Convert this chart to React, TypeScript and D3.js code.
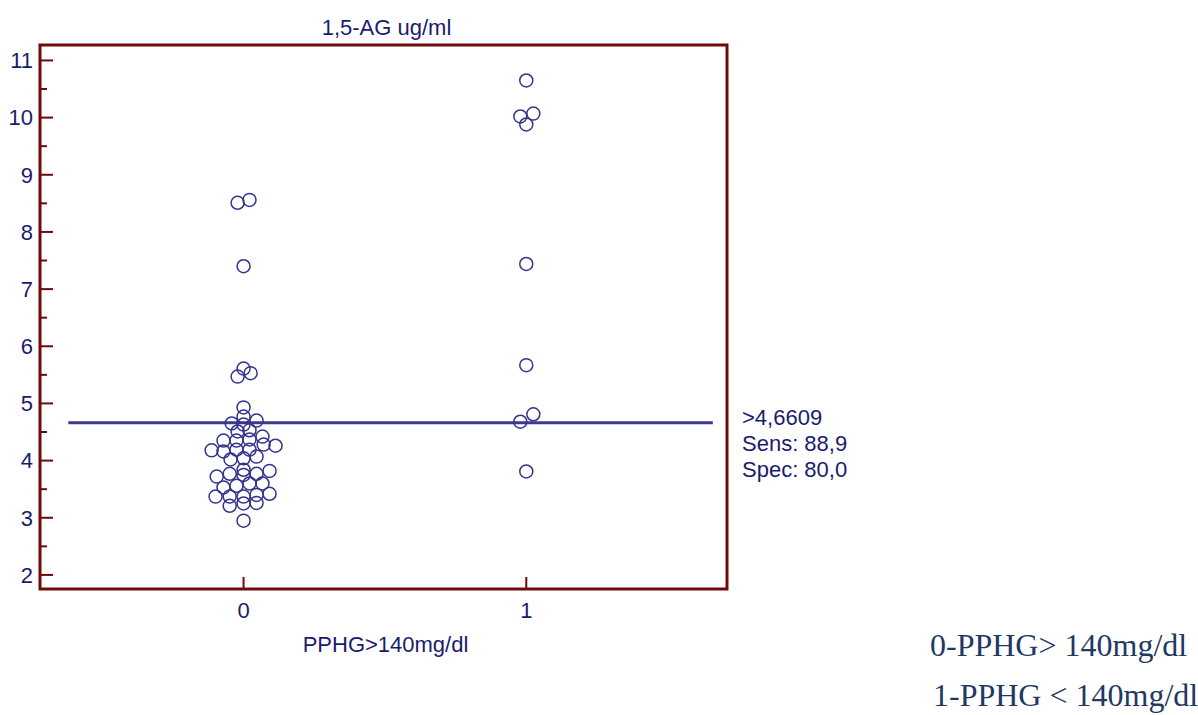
import React from "react";
import * as d3 from "d3";

// 1,5-AG (ug/ml) by PPHG group, with horizontal jitter in category units
const group0Values = [
  8.51, 8.56, 7.4, 5.61, 5.47, 5.53,
  4.93, 4.77, 4.7, 4.65, 4.63,
  4.51, 4.53,
  4.35, 4.35, 4.37, 4.42,
  4.18, 4.16, 4.19, 4.19, 4.28, 4.26,
  4.02, 4.04, 4.07,
  3.84,
  3.72, 3.77, 3.75, 3.77, 3.82,
  3.53, 3.56, 3.6, 3.6,
  3.37, 3.37, 3.37, 3.4, 3.42,
  3.21, 3.25, 3.26,
  2.95,
];
const group0Jitter = [
  -0.021, 0.021, 0, 0, -0.021, 0.025,
  0, 0, 0.046, -0.042, 0,
  -0.021, 0.021,
  -0.071, -0.025, 0.021, 0.067,
  -0.113, -0.071, -0.025, 0.021, 0.071, 0.113,
  -0.046, 0, 0.046,
  0,
  -0.095, -0.049, 0, 0.046, 0.092,
  -0.071, -0.025, 0.021, 0.067,
  -0.099, -0.049, 0, 0.046, 0.092,
  -0.049, 0, 0.046,
  0,
];
const group1Values = [10.65, 10.02, 10.07, 9.88, 7.44, 5.67, 4.68, 4.81, 3.81];
const group1Jitter = [0, -0.021, 0.025, 0, 0, 0, -0.021, 0.025, 0];

const categories = [0, 1];
const yTicks = [2, 3, 4, 5, 6, 7, 8, 9, 10, 11];
const yMinorTicks = [2.5, 3.5, 4.5, 5.5, 6.5, 7.5, 8.5, 9.5, 10.5];
const cutoff = 4.6609;
const statLines = [">4,6609", "Sens: 88,9", "Spec: 80,0"];
const legendLines = ["0-PPHG> 140mg/dl", "1-PPHG < 140mg/dl"];

const W = 1198;
const H = 715;
const frame = { left: 40, right: 727, top: 45, bottom: 589 };

const navy = "#1b1b6e";
const maroon = "#6e0a0a";
const dotColor = "#34348c";

export default function App() {
  const x = d3.scaleLinear().domain([-0.72, 1.71]).range([frame.left, frame.right]);
  const y = d3.scaleLinear().domain([1.754, 11.27]).range([frame.bottom, frame.top]);

  const points = [
    ...group0Values.map((v, i) => ({ g: 0, v, j: group0Jitter[i] })),
    ...group1Values.map((v, i) => ({ g: 1, v, j: group1Jitter[i] })),
  ];

  const font = "Arial, 'Liberation Sans', sans-serif";
  const fs = 22;

  return (
    <svg
      width={W}
      height={H}
      style={{ position: "absolute", left: 0, top: 0, background: "#fff" }}
      fontFamily={font}
    >
      <text x={(frame.left + frame.right) / 2 + 3} y={35} textAnchor="middle" fontSize={fs} fill={navy}>
        1,5-AG ug/ml
      </text>

      {/* cut-off line */}
      <line
        x1={x(-0.62)}
        x2={x(1.66)}
        y1={y(cutoff)}
        y2={y(cutoff)}
        stroke="#3a3a8e"
        strokeWidth={3}
      />

      {/* dots */}
      {points.map((p, i) => (
        <circle
          key={i}
          cx={x(p.g + p.j)}
          cy={y(p.v)}
          r={6.5}
          fill="none"
          stroke={dotColor}
          strokeWidth={1.5}
        />
      ))}

      {/* frame */}
      <rect
        x={frame.left}
        y={frame.top}
        width={frame.right - frame.left}
        height={frame.bottom - frame.top}
        fill="none"
        stroke={maroon}
        strokeWidth={3}
      />

      {/* y ticks */}
      {yTicks.map((t) => (
        <g key={t}>
          <line x1={frame.left} x2={frame.left + 13} y1={y(t)} y2={y(t)} stroke={maroon} strokeWidth={2} />
          <text x={33} y={y(t) + 7.8} textAnchor="end" fontSize={fs} fill={navy}>
            {t}
          </text>
        </g>
      ))}
      {yMinorTicks.map((t) => (
        <line key={t} x1={frame.left} x2={frame.left + 7} y1={y(t)} y2={y(t)} stroke={maroon} strokeWidth={2} />
      ))}

      {/* x ticks */}
      {categories.map((c) => (
        <g key={c}>
          <line x1={x(c)} x2={x(c)} y1={frame.bottom} y2={frame.bottom - 12} stroke={maroon} strokeWidth={2} />
          <text x={x(c)} y={618} textAnchor="middle" fontSize={fs} fill={navy}>
            {c}
          </text>
        </g>
      ))}
      <text x={(frame.left + frame.right) / 2 + 2} y={652} textAnchor="middle" fontSize={fs} fill={navy}>
        PPHG&gt;140mg/dl
      </text>

      {/* cut-off statistics */}
      {statLines.map((s, i) => (
        <text key={s} x={742} y={425 + i * 26} fontSize={fs} fill={navy}>
          {s}
        </text>
      ))}

      {/* group legend */}
      {legendLines.map((s, i) => (
        <text
          key={s}
          x={i === 0 ? 930 : 933}
          y={656 + i * 50}
          fontSize={32}
          fontFamily="'Liberation Serif', 'Times New Roman', serif"
          fill="#1f3864"
        >
          {s}
        </text>
      ))}
    </svg>
  );
}
